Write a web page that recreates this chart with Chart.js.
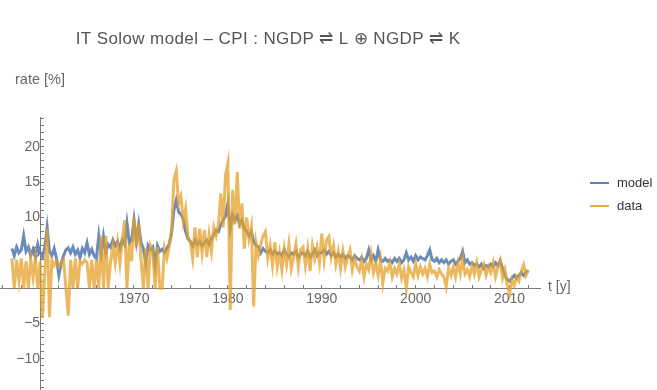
<!DOCTYPE html>
<html>
<head>
<meta charset="utf-8">
<script src="https://cdn.jsdelivr.net/npm/chart.js@4/dist/chart.umd.min.js"></script>
<style>
  html, body { margin: 0; padding: 0; background: #fff; }
</style>
</head>
<body>
<canvas id="chart" width="657" height="390"></canvas>
<script>
// quarterly samples starting at 1957.0
const startYear = 1957;
const stepYear = 0.25;

const model = [
  5.6, 4.6, 5.8, 5.0,   5.4, 7.4, 5.2, 5.8,   4.6, 5.5, 4.4, 6.2,   5.0, 4.4, 5.8, 8.6,
  5.2, 4.6, 5.6, 4.2,   1.8, 3.5, 4.6, 5.4,   5.7, 5.0, 5.8, 4.8,   5.4, 4.3, 5.6, 5.0,
  6.4, 4.8, 5.5, 4.6,   4.2, 7.4, 4.8, 7.3,   5.0, 6.2, 5.8, 6.8,   6.0, 6.6, 5.6, 6.9,
  6.2, 9.2, 6.4, 6.8,   9.6, 6.6, 9.0, 6.4,   5.6, 3.6, 6.0, 5.4,   5.8, 3.2, 6.0, 5.2,
  5.5, 5.0, 5.6, 6.2,   7.8, 11.0, 12.4, 10.8, 10.4, 9.8, 8.0, 7.0, 6.6, 6.0, 6.8, 6.2,
  6.6, 6.0, 6.4, 6.8,   6.2, 7.0, 7.6, 8.2,   8.0, 9.0, 9.6, 10.2,  12.0, 8.4, 10.4, 9.6,
  10.2, 9.0, 9.6, 8.4,  8.0, 7.4, 8.0, 6.6,   6.0, 5.8, 5.0, 5.6,   5.2, 5.0, 5.4, 4.8,
  5.2, 4.8, 5.0, 4.6,   5.4, 4.8, 4.4, 5.0,   4.8, 5.2, 4.4, 4.8,   5.0, 4.6, 5.2, 4.4,
  4.8, 5.4, 4.6, 5.0,   5.0, 5.4, 4.8, 5.2,   4.6, 5.0, 4.4, 4.8,   4.4, 4.8, 4.2, 4.6,
  4.4, 4.0, 4.6, 4.2,   4.0, 4.4, 3.8, 4.2,   5.4, 4.0, 4.6, 3.8,   5.4, 4.0, 3.8, 4.2,
  3.8, 4.0, 3.6, 4.2,   3.8, 4.2, 3.6, 4.0,   5.0, 4.0, 4.4, 3.8,   4.6, 4.0, 4.4, 4.2,
  4.0, 4.6, 5.4, 4.0,   3.8, 4.2, 3.6, 4.0,   3.6, 4.0, 3.4, 3.8,   4.0, 3.4, 3.8, 4.2,
  5.2, 3.6, 4.0, 3.4,   3.6, 3.2, 3.4, 3.0,   3.4, 2.8, 3.2, 3.0,   3.4, 3.0, 3.6, 3.2,
  3.9, 2.8, 1.8, 1.2,   1.0, 1.4, 1.8, 1.4,   1.8, 2.2, 1.8, 2.3,   2.4
];

const cpiData = [
  4.2, 0.0, 4.0, 1.0,   4.2, 0.0, 3.8, 0.0,   4.0, 1.5, 4.2, 0.0,   3.8, -4.2, 2.0, 8.4,
  -4.1, 4.0, 3.2, 3.8,  3.0, 3.6, 4.0, 0.0,   -3.9, 4.0, 0.0, 4.2,  0.0, 3.8, 3.4, 4.0,
  3.6, 0.0, 4.0, 0.0,   4.0, 0.0, 7.4, 0.0,   7.4, 0.0, 3.6, 6.0,   3.6, 6.4, 3.5, 6.8,
  9.6, 0.0, 6.4, 3.8,   10.0, 5.8, 9.2, 4.0,  0.0, 5.6, 0.0, 6.0,   5.2, 0.0, 5.8, 0.0,
  0.0, 5.6, 4.2, 6.0,   8.0, 15.4, 16.6, 12.0, 13.0, 9.4, 11.2, 7.2, 6.6, 4.2, 8.6, 4.4,
  8.4, 5.0, 8.2, 4.4,   7.6, 5.2, 8.6, 7.4,   9.0, 13.4, 8.6, 16.0, 17.7, -3.1, 13.9, 9.0,
  16.4, 8.4, 12.0, 5.6, 10.0, 7.0, 8.7, -2.6, 6.4, 4.6, 6.2, 7.4,   8.0, 4.2, 6.0, 3.2,
  6.5, 3.0, 5.0, 2.6,   5.6, 3.4, 6.2, 2.8,   4.4, 6.2, 3.0, 5.4,   5.8, 3.2, 5.6, 2.4,
  6.0, 4.2, 5.8, 3.6,   7.7, 4.0, 6.8, 7.3,   4.4, 6.0, 3.4, 5.2,   2.8, 5.2, 3.0, 4.4,
  5.4, 2.6, 4.2, 3.0,   2.4, 4.0, 1.6, 3.4,   2.6, 4.8, 2.2, 3.4,   1.8, 4.0, 0.7, 2.8,
  2.4, 3.6, 1.6, 2.8,   2.0, 3.4, 1.4, 2.6,   0.0, 3.0, 2.2, 1.6,   3.4, 1.8, 3.0, 2.0,
  2.8, 1.6, 3.4, 2.2,   2.4, 1.6, 2.6, 2.0,   1.6, 0.2, 2.8, 1.8,   3.0, 1.6, 3.6, 2.0,
  4.2, 2.0, 2.6, 1.6,   3.2, 2.0, 3.6, 1.6,   2.6, 3.4, 1.8, 3.0,   2.2, 3.6, 1.6, 3.0,
  3.9, 1.4, 2.6, 0.4,   -0.8, 1.2, 0.4, 1.6,  1.0, 2.4, 3.3, 1.8,   2.6
];

// axis ticks (marks) and the ones that carry a label
const xTicks = [1956, 1958, 1960, 1962, 1964, 1966, 1968, 1970, 1972, 1974, 1976, 1978, 1980,
  1982, 1984, 1986, 1988, 1990, 1992, 1994, 1996, 1998, 2000, 2002, 2004, 2006, 2008, 2010, 2012];
const xTickLabels = [1970, 1980, 1990, 2000, 2010];
const yTicks = [-14, -13, -12, -11, -10, -9, -8, -7, -6, -5, -4, -3, -2, -1, 0, 1, 2, 3, 4, 5,
  6, 7, 8, 9, 10, 11, 12, 13, 14, 15, 16, 17, 18, 19, 20, 21, 22, 23, 24];
const yTickLabels = [-10, -5, 5, 10, 15, 20];

const toPoints = arr => arr.map((v, i) => ({ x: startYear + i * stepYear, y: v }));

const axisColor = '#7a7a7a';
const labelColor = '#666';
const fontFamily = '"Liberation Sans", Arial, sans-serif';

// title, axis names and legend drawn as plain text
const decorations = {
  id: 'decorations',
  afterDraw(chart) {
    const ctx = chart.ctx;
    ctx.save();
    ctx.textBaseline = 'middle';
    ctx.fillStyle = '#555';
    ctx.font = '17px ' + fontFamily;
    ctx.letterSpacing = '0.4px';
    ctx.textAlign = 'center';
    ctx.fillText('IT Solow model \u2013 CPI : NGDP \u21CC L \u2295 NGDP \u21CC K', 268, 39);
    ctx.letterSpacing = '0px';

    ctx.textAlign = 'left';
    ctx.font = '14.5px ' + fontFamily;
    ctx.fillStyle = labelColor;
    ctx.fillText('rate [%]', 15, 80);
    ctx.font = '14px ' + fontFamily;
    ctx.fillText('t [y]', 548, 287);

    const items = [
      { text: 'model', color: 'rgb(94,129,181)', y: 183 },
      { text: 'data', color: 'rgb(232,170,60)', y: 206 }
    ];
    ctx.font = '13px ' + fontFamily;
    items.forEach(it => {
      ctx.strokeStyle = it.color;
      ctx.lineWidth = 2;
      ctx.beginPath();
      ctx.moveTo(590, it.y);
      ctx.lineTo(609, it.y);
      ctx.stroke();
      ctx.fillStyle = '#333';
      ctx.fillText(it.text, 617, it.y);
    });
    ctx.restore();
  }
};

new Chart(document.getElementById('chart'), {
  type: 'line',
  data: {
    datasets: [
      {
        label: 'model',
        data: toPoints(model),
        borderColor: 'rgba(94,129,181,0.92)',
        borderWidth: 3,
        pointRadius: 0,
        tension: 0,
        order: 1
      },
      {
        label: 'data',
        data: toPoints(cpiData),
        borderColor: 'rgba(228,160,42,0.75)',
        borderWidth: 3,
        pointRadius: 0,
        tension: 0,
        order: 0
      }
    ]
  },
  options: {
    responsive: false,
    animation: false,
    devicePixelRatio: 1,
    layout: { padding: { left: 0, right: 117, top: 117, bottom: 0 } },
    plugins: {
      legend: { display: false },
      title: { display: false },
      tooltip: { enabled: false }
    },
    scales: {
      x: {
        type: 'linear',
        min: 1955.73,
        max: 2013.24,
        position: { y: 0 },
        afterBuildTicks: s => { s.ticks = xTicks.map(v => ({ value: v })); },
        afterFit: s => { s.paddingLeft = 0; s.paddingRight = 0; },
        border: { display: true, color: axisColor, width: 1 },
        grid: { drawOnChartArea: false, drawTicks: true, tickLength: -4, color: axisColor },
        ticks: {
          autoSkip: false,
          maxRotation: 0,
          padding: 7,
          color: labelColor,
          font: { family: fontFamily, size: 14 },
          callback: v => xTickLabels.includes(v) ? String(v) : ''
        }
      },
      y: {
        type: 'linear',
        min: -14.4,
        max: 24.2,
        position: { x: 1960 },
        afterBuildTicks: s => { s.ticks = yTicks.map(v => ({ value: v })); },
        afterFit: s => { s.paddingTop = 0; s.paddingBottom = 0; },
        border: { display: true, color: axisColor, width: 1 },
        grid: { drawOnChartArea: false, drawTicks: true, tickLength: -4, color: axisColor },
        ticks: {
          autoSkip: false,
          padding: 9,
          color: labelColor,
          font: { family: fontFamily, size: 14 },
          callback: v => yTickLabels.includes(v) ? String(v).replace('-', '\u2212') : ''
        }
      }
    }
  },
  plugins: [decorations]
});
</script>
</body>
</html>
